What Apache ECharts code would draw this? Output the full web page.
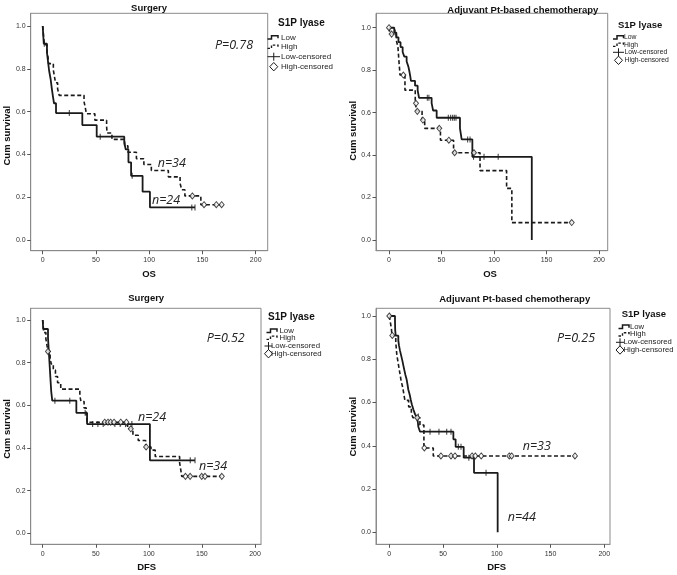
<!DOCTYPE html>
<html><head><meta charset="utf-8">
<script src="https://cdn.jsdelivr.net/npm/echarts@6/dist/echarts.min.js"></script>
<style>html,body{margin:0;padding:0;background:#fff}#c{width:677px;height:575px}</style>
</head><body><div id="c"></div>
<script>
// ---------------- DATA ----------------
const xTicks = [0, 50, 100, 150, 200];
const yTicks = [0, 0.2, 0.4, 0.6, 0.8, 1.0];
const legendTitle = 'S1P lyase';
const legendLabels = ['Low', 'High', 'Low-censored', 'High-censored'];
const panelTitles = ['Surgery', 'Adjuvant Pt-based chemotherapy', 'Surgery', 'Adjuvant Pt-based chemotherapy'];
const yName = 'Cum survival';
const xNames = ['OS', 'OS', 'DFS', 'DFS'];
const pValues = ['P=0.78', '', 'P=0.52', 'P=0.25'];
const nLabels = [['n=34', 'n=24'], [], ['n=24', 'n=34'], ['n=33', 'n=44']];

// Panel 1: Surgery, OS
const p1Low = [[0,1],[0.5,0.958],[1,0.917],[4,0.875],[5,0.833],[6,0.792],[7.5,0.75],[8.5,0.71],[9.5,0.675],[10.6,0.639],[12.5,0.593],[37.2,0.537],[50.7,0.483],[76.6,0.453],[78,0.423],[80.5,0.363],[83,0.30],[93.8,0.226],[100.7,0.152],[143,0.152]];
const p1High = [[0,1],[0.5,0.971],[1,0.941],[1.5,0.912],[4,0.882],[5,0.853],[5.5,0.824],[10,0.794],[11,0.765],[12,0.735],[14,0.706],[15.5,0.676],[38.8,0.647],[40,0.618],[41,0.59],[49,0.56],[60,0.53],[60.5,0.50],[65,0.47],[77,0.44],[80,0.41],[88,0.38],[95,0.353],[102,0.325],[118,0.295],[129,0.265],[130.5,0.235],[133.5,0.206],[148.5,0.165],[168,0.165]];
const p1LowCens = [[1.5,0.917],[25,0.593],[54,0.483],[84,0.30],[140,0.152],[143,0.152]];
const p1HighCens = [[140.5,0.206],[151.5,0.165],[163,0.165],[168,0.165]];

// Panel 2: Adjuvant chemo, OS
const p2Low = [[0,1],[5,0.977],[7,0.955],[9,0.932],[11,0.909],[13,0.886],[14.6,0.864],[16.8,0.841],[18.4,0.818],[19.4,0.795],[20.2,0.773],[20.9,0.75],[24.8,0.727],[27.3,0.705],[28.6,0.67],[40.6,0.645],[42,0.61],[45.4,0.576],[67.6,0.526],[69.2,0.474],[79.4,0.392],[136,0]];
const p2High = [[0,1],[1,0.97],[7,0.94],[8.5,0.91],[9,0.875],[9.5,0.84],[10,0.81],[10.5,0.777],[15.2,0.706],[25,0.644],[26.5,0.606],[31.5,0.565],[34,0.526],[49,0.47],[61.5,0.411],[86.7,0.327],[112,0.243],[117,0.082],[174,0.082]];
const p2LowCens = [[6,0.977],[36.5,0.67],[38,0.67],[56.5,0.576],[58.7,0.576],[60.6,0.576],[62.2,0.576],[63.8,0.576],[74.9,0.474],[77.2,0.474],[80.5,0.392],[90.5,0.392],[104,0.392]];
const p2HighCens = [[0,1],[2.5,0.97],[13.7,0.777],[25.7,0.644],[27,0.606],[32.3,0.565],[47.9,0.526],[57,0.47],[62.5,0.411],[80.9,0.411],[174,0.082]];

// Panel 3: Surgery, DFS
const p3Low = [[0,1],[0.5,0.958],[5,0.917],[5.5,0.875],[6,0.833],[6.5,0.792],[7,0.75],[7.5,0.708],[8,0.667],[9,0.622],[31.7,0.565],[41.8,0.512],[101,0.342],[143.5,0.342]];
const p3High = [[0,1],[0.5,0.971],[1,0.941],[3,0.912],[4,0.882],[5,0.853],[7,0.824],[8,0.794],[10,0.765],[12,0.735],[14,0.706],[17,0.676],[35,0.647],[36,0.618],[39,0.588],[41,0.559],[42,0.521],[80,0.49],[85,0.46],[90,0.435],[97,0.405],[102,0.39],[106,0.36],[129,0.33],[130,0.30],[131,0.267],[168.7,0.267]];
const p3LowCens = [[11.5,0.622],[25.5,0.622],[40,0.565],[47,0.512],[52,0.512],[57,0.512],[68,0.512],[73,0.512],[78,0.512],[84,0.512],[139,0.342],[143.5,0.342]];
const p3HighCens = [[5,0.853],[58.4,0.521],[61.5,0.521],[64,0.521],[67.2,0.521],[73.5,0.521],[78.8,0.521],[83,0.49],[97.4,0.405],[134.5,0.267],[138.9,0.267],[149.8,0.267],[152.9,0.267],[168.7,0.267]];

// Panel 4: Adjuvant chemo, DFS
const p4Low = [[0,1],[5.3,0.977],[5.5,0.932],[6,0.909],[8.4,0.886],[9,0.864],[9.9,0.841],[11,0.818],[12.1,0.795],[13,0.773],[14,0.75],[15,0.727],[16.2,0.705],[17,0.682],[17.7,0.659],[19,0.636],[19.9,0.614],[21,0.591],[22.4,0.568],[24,0.545],[25.5,0.535],[26.5,0.511],[27,0.488],[28.6,0.465],[59.6,0.43],[61.7,0.395],[69.2,0.345],[78.8,0.275],[100.8,0]];
const p4High = [[0,1],[1,0.97],[2,0.94],[2.5,0.91],[6,0.88],[6.5,0.85],[7,0.82],[8,0.79],[9,0.76],[10,0.73],[11,0.70],[12.5,0.67],[13.5,0.64],[14.5,0.61],[18,0.58],[20.5,0.55],[22,0.53],[28.5,0.496],[32.2,0.39],[40.9,0.353],[172.7,0.353]];
const p4LowCens = [[27,0.535],[37.9,0.465],[46.2,0.465],[53.4,0.465],[57.4,0.465],[64.2,0.395],[66.7,0.395],[74,0.345],[90,0.275]];
const p4HighCens = [[0,1],[2.8,0.91],[26,0.53],[32.6,0.39],[48,0.353],[57.4,0.353],[61.1,0.353],[77,0.353],[80,0.353],[85.5,0.353],[111.6,0.353],[113.8,0.353],[172.7,0.353]];

const panelData = [
  [p1Low, p1High, p1LowCens, p1HighCens],
  [p2Low, p2High, p2LowCens, p2HighCens],
  [p3Low, p3High, p3LowCens, p3HighCens],
  [p4Low, p4High, p4LowCens, p4HighCens]
];

// ---------------- LAYOUT ----------------
// leg: tx/ty title, ix step-icon left, lx step text x, cx censored-icon left, cw censored-icon width, lxc censored text x
const layout = [
  { grid:{left:30.7, top:13.3, width:237, height:237.4}, xr:[-11.27,211.27], yr:[-0.05,1.0593],
    title:[149,8.3], yN:[7,135.7], xN:[149,274],
    leg:{tx:278, ty:23, ix:267.5, lx:281, cx:267.5, cw:12.5, lxc:281, rows:[37.3,46.7,56.7,66.7], fs:8, tfs:10},
    p:[215,45], n:[[157.7,163],[152,200]] },
  { grid:{left:376, top:13.3, width:231.7, height:237.4}, xr:[-12.38,208.3], yr:[-0.0504,1.068],
    title:[522.8,10], yN:[353.3,130.8], xN:[490,274],
    leg:{tx:618, ty:25, ix:613, lx:624, cx:613, cw:11, lxc:624.5, rows:[37.3,44.7,52.3,60.3], fs:6.8, tfs:9.5},
    p:null, n:[] },
  { grid:{left:30.7, top:308.3, width:230.3, height:236}, xr:[-11.3,205.65], yr:[-0.0516,1.055],
    title:[146.2,298.3], yN:[7.3,429], xN:[146.7,567.7],
    leg:{tx:268, ty:317.7, ix:266.5, lx:279.5, cx:264.5, cw:8, lxc:271, rows:[330.7,337.7,346,353.7], fs:7.8, tfs:10},
    p:[206.7,338.3], n:[[138,417.7],[199,466.7]] },
  { grid:{left:376, top:308.3, width:234, height:236}, xr:[-12.37,205.3], yr:[-0.0555,1.0356],
    title:[514.7,299], yN:[353.3,426.7], xN:[496.7,567.7],
    leg:{tx:621.7, ty:314.3, ix:618.5, lx:630, cx:616, cw:8, lxc:623.5, rows:[326.7,334.3,342.3,350], fs:7.7, tfs:9.5},
    p:[557,338.3], n:[[522.7,446.3],[507.7,517.3]] }
];

const INK = '#1a1a1a';
const FRAME = '#8a8a8a';
const SANS = '"Liberation Sans", Arial, sans-serif';
const ITAL = '"Open Sans", "DejaVu Sans", sans-serif';

const grids = [], xAxes = [], yAxes = [], series = [], graphics = [];

layout.forEach((L, i) => {
  grids.push(Object.assign({show:true, borderColor:FRAME, borderWidth:1, backgroundColor:'#fff'}, L.grid));
  xAxes.push({
    type:'value', gridIndex:i, min:L.xr[0], max:L.xr[1],
    axisLine:{show:true, onZero:false, lineStyle:{color:FRAME, width:1}},
    splitLine:{show:false},
    axisTick:{show:true, length:3.5, customValues:xTicks, lineStyle:{color:'#555'}},
    axisLabel:{customValues:xTicks, fontSize:7, color:'#333', margin:6, fontFamily:SANS, formatter:v=>String(Math.round(v))}
  });
  yAxes.push({
    type:'value', gridIndex:i, min:L.yr[0], max:L.yr[1],
    axisLine:{show:true, onZero:false, lineStyle:{color:FRAME, width:1}},
    splitLine:{show:false},
    axisTick:{show:true, length:3.5, customValues:yTicks, lineStyle:{color:'#555'}},
    axisLabel:{customValues:yTicks, fontSize:7, color:'#333', margin:5, fontFamily:SANS, formatter:v=>v.toFixed(1)}
  });
  const [low, high, lowC, highC] = panelData[i];
  series.push({type:'line', name:'Low', xAxisIndex:i, yAxisIndex:i, data:low, step:'end', symbol:'none',
    lineStyle:{color:INK, width:1.8}, z:3, silent:true});
  series.push({type:'line', name:'High', xAxisIndex:i, yAxisIndex:i, data:high, step:'end', symbol:'none',
    lineStyle:{color:INK, width:1.6, type:[4,2.5]}, z:2, silent:true});
  series.push({type:'scatter', name:'Low-censored', xAxisIndex:i, yAxisIndex:i, data:lowC, symbol:'rect',
    symbolSize:[1.1,6], itemStyle:{color:INK}, z:4, silent:true});
  series.push({type:'scatter', name:'High-censored', xAxisIndex:i, yAxisIndex:i, data:highC, symbol:'diamond',
    symbolSize:[5,6], itemStyle:{color:'#fff', borderColor:INK, borderWidth:1}, z:5, silent:true});

  // titles and axis names
  graphics.push({type:'text', x:L.title[0], y:L.title[1], z:10,
    style:{text:panelTitles[i], font:'bold 9.5px '+SANS, fill:'#111', textAlign:'center', textVerticalAlign:'middle'}});
  graphics.push({type:'text', x:L.yN[0], y:L.yN[1], rotation:Math.PI/2, z:10,
    style:{text:yName, font:'bold 9.5px '+SANS, fill:'#111', textAlign:'center', textVerticalAlign:'middle'}});
  graphics.push({type:'text', x:L.xN[0], y:L.xN[1], z:10,
    style:{text:xNames[i], font:'bold 9.5px '+SANS, fill:'#111', textAlign:'center', textVerticalAlign:'middle'}});

  // legend
  const G = L.leg;
  graphics.push({type:'text', x:G.tx, y:G.ty, z:10,
    style:{text:legendTitle, font:'bold '+G.tfs+'px '+SANS, fill:'#111', textAlign:'left', textVerticalAlign:'middle'}});
  const ix = G.ix;
  const stepPts = (y) => [[ix,y+1.7],[ix+4,y+1.7],[ix+4,y-1.6],[ix+10.5,y-1.6],[ix+10.5,y+1]];
  graphics.push({type:'polyline', z:10, shape:{points:stepPts(G.rows[0])}, style:{stroke:INK, lineWidth:1.5, fill:null}});
  graphics.push({type:'polyline', z:10, shape:{points:stepPts(G.rows[1])}, style:{stroke:INK, lineWidth:1.4, fill:null, lineDash:[2.5,1.8]}});
  const cx = G.cx, cw = G.cw, cm = cx + cw / 2;
  const yc = G.rows[2];
  graphics.push({type:'line', z:10, shape:{x1:cx, y1:yc, x2:cx+cw, y2:yc}, style:{stroke:INK, lineWidth:1}});
  graphics.push({type:'line', z:10, shape:{x1:cm, y1:yc-4, x2:cm, y2:yc+4}, style:{stroke:INK, lineWidth:1}});
  const yd = G.rows[3];
  graphics.push({type:'polygon', z:10, shape:{points:[[cm,yd-4.2],[cm+4,yd],[cm,yd+4.2],[cm-4,yd]]}, style:{stroke:INK, lineWidth:1, fill:'#fff'}});
  legendLabels.forEach((t, k) => {
    graphics.push({type:'text', x:(k < 2 ? G.lx : G.lxc), y:G.rows[k], z:10,
      style:{text:t, font:G.fs+'px '+SANS, fill:'#222', textAlign:'left', textVerticalAlign:'middle'}});
  });

  // annotations
  if (L.p && pValues[i]) {
    graphics.push({type:'text', x:L.p[0], y:L.p[1], z:10,
      style:{text:pValues[i], font:'italic 12.5px '+ITAL, fill:'#222', textAlign:'left', textVerticalAlign:'middle'}});
  }
  nLabels[i].forEach((t, k) => {
    graphics.push({type:'text', x:L.n[k][0], y:L.n[k][1], z:10,
      style:{text:t, font:'italic 12.5px '+ITAL, fill:'#222', textAlign:'left', textVerticalAlign:'middle'}});
  });
});

const chart = echarts.init(document.getElementById('c'), null, {renderer:'canvas'});
chart.setOption({
  animation:false,
  backgroundColor:'#fff',
  grid:grids, xAxis:xAxes, yAxis:yAxes, series:series, graphic:graphics
});
</script></body></html>
